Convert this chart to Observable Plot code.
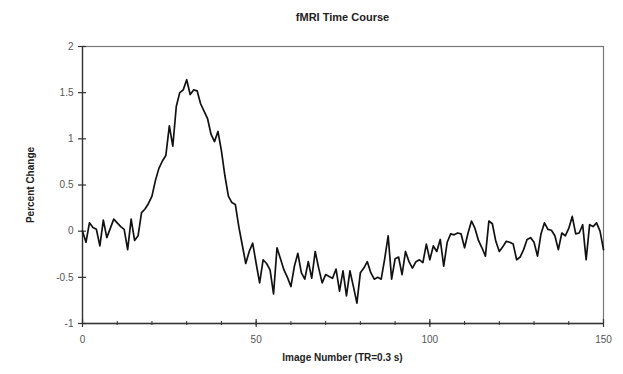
<!DOCTYPE html>
<html>
<head>
<meta charset="utf-8">
<script src="https://cdn.jsdelivr.net/npm/d3@7"></script>
<script src="https://cdn.jsdelivr.net/npm/@observablehq/plot@0.6"></script>
<style>
  html, body { margin: 0; padding: 0; background: #fff; }
  #wrap { position: relative; width: 623px; height: 374px; font-family: "Liberation Sans", Arial, sans-serif; }
  #title { position: absolute; left: 82px; width: 521px; top: 11px; text-align: center; font-weight: bold; font-size: 11px; color: #222; }
  #xlab { position: absolute; left: 82px; width: 521px; top: 352px; text-align: center; font-weight: bold; font-size: 10px; color: #222; }
  #ylab { position: absolute; left: 30px; top: 185px; transform: translate(-50%, -50%) rotate(-90deg); white-space: nowrap; font-weight: bold; font-size: 10px; color: #222; }
  #chart { position: absolute; left: 0; top: 0; }
</style>
</head>
<body>
<div id="wrap">
  <div id="chart"></div>
  <div id="title">fMRI Time Course</div>
  <div id="xlab">Image Number (TR=0.3 s)</div>
  <div id="ylab">Percent Change</div>
</div>
<script>
// Percent change per image (index 0..150)
const percentChange = [
  0.00, -0.12, 0.09, 0.04, 0.02, -0.16, 0.12, -0.07, 0.03, 0.13,
  0.09, 0.05, 0.02, -0.20, 0.13, -0.10, -0.05, 0.20, 0.24, 0.30,
  0.38, 0.55, 0.68, 0.76, 0.82, 1.14, 0.92, 1.35, 1.50, 1.53,
  1.64, 1.48, 1.53, 1.52, 1.38, 1.30, 1.22, 1.05, 0.97, 1.08,
  0.87, 0.60, 0.38, 0.31, 0.29, 0.05, -0.15, -0.35, -0.22, -0.13,
  -0.35, -0.56, -0.31, -0.35, -0.42, -0.68, -0.18, -0.30, -0.42, -0.50,
  -0.60, -0.38, -0.24, -0.45, -0.52, -0.33, -0.51, -0.22, -0.40, -0.56,
  -0.47, -0.49, -0.51, -0.41, -0.65, -0.43, -0.70, -0.43, -0.60, -0.78,
  -0.45, -0.40, -0.33, -0.45, -0.52, -0.50, -0.52, -0.30, -0.05, -0.52,
  -0.30, -0.28, -0.47, -0.22, -0.33, -0.40, -0.33, -0.31, -0.34, -0.14,
  -0.31, -0.16, -0.22, -0.09, -0.38, -0.12, -0.03, -0.04, -0.02, -0.03,
  -0.18, -0.02, 0.11, 0.03, -0.10, -0.18, -0.27, 0.11, 0.08, -0.11,
  -0.22, -0.17, -0.11, -0.12, -0.14, -0.31, -0.28, -0.20, -0.09, -0.07,
  -0.12, -0.27, -0.03, 0.09, 0.02, 0.01, -0.05, -0.20, -0.02, -0.05,
  0.03, 0.16, -0.03, -0.02, 0.07, -0.31, 0.07, 0.05, 0.09, 0.00,
  -0.20
];
const yTicks = [-1, -0.5, 0, 0.5, 1, 1.5, 2];
const yTickLabels = ["-1", "-0.5", "0", "0.5", "1", "1.5", "2"];
const xMajorTicks = [0, 50, 100, 150];
const xMinorTicks = [0, 10, 20, 30, 40, 50, 60, 70, 80, 90, 100, 110, 120, 130, 140, 150];

const chart = Plot.plot({
  width: 623,
  height: 374,
  marginLeft: 82,
  marginRight: 20,
  marginTop: 46,
  marginBottom: 51,
  style: { fontFamily: "Liberation Sans, Arial, sans-serif", fontSize: "10px", background: "#fff" },
  x: { domain: [0, 150] },
  y: { domain: [-1, 2] },
  marks: [
    Plot.frame({ stroke: "#777", strokeWidth: 1.2 }),
    Plot.ruleX([0], { stroke: "#333", strokeWidth: 1.3 }),
    Plot.ruleY([-1], { stroke: "#333", strokeWidth: 1.3 }),
    // crossing y ticks
    Plot.axisY({ ticks: yTicks, tickSize: 8, dx: 4, text: null, stroke: "#333", strokeWidth: 1.2 }),
    Plot.axisY({ ticks: yTicks, tickSize: 0, tickPadding: 9, tickFormat: (d) => yTickLabels[yTicks.indexOf(d)], fill: "#555", label: null }),
    // x ticks
    Plot.axisX({ ticks: xMinorTicks, tickSize: 4, dy: -2, text: null, stroke: "#333", strokeWidth: 1 }),
    Plot.axisX({ ticks: xMajorTicks, tickSize: 8, dy: -4, text: null, stroke: "#333", strokeWidth: 1.2 }),
    Plot.axisX({ ticks: xMajorTicks, tickSize: 0, tickPadding: 12, fill: "#555", label: null }),
    Plot.lineY(percentChange, { x: (d, i) => i, y: (d) => d, stroke: "#111", strokeWidth: 1.7 })
  ]
});
document.getElementById("chart").appendChild(chart);
</script>
</body>
</html>
